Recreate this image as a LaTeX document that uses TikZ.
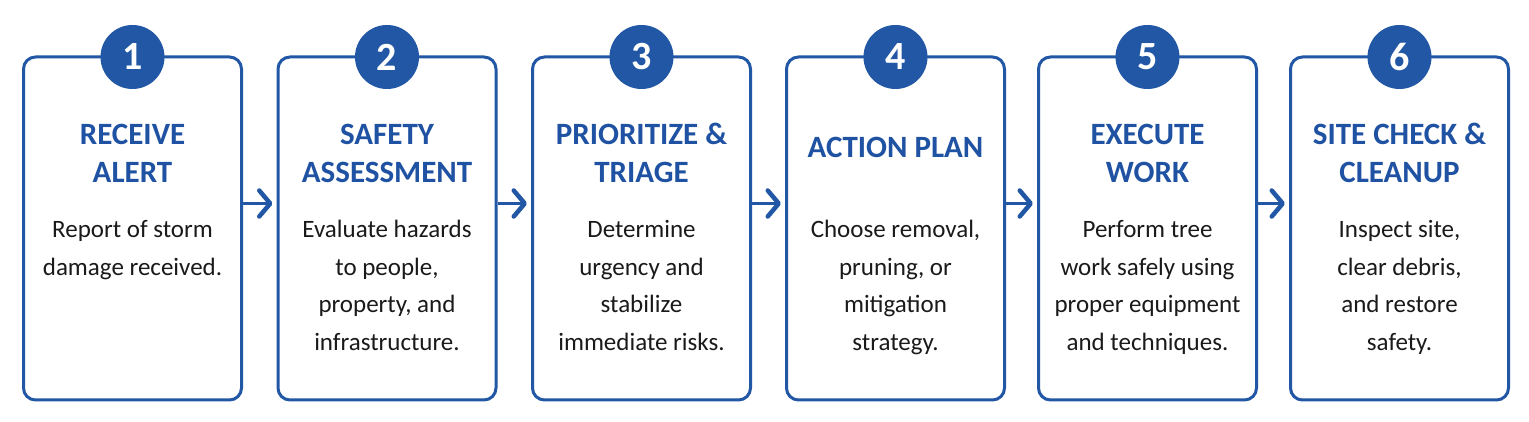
\documentclass[tikz,border=0pt]{standalone}
\usepackage{fontspec}
\setmainfont{Carlito}
\usetikzlibrary{arrows.meta}
\definecolor{bblue}{HTML}{2157A4}
\definecolor{tblue}{HTML}{1F52A2}
\definecolor{btext}{HTML}{1A1A1A}
\begin{document}
\begin{tikzpicture}[x=1pt,y=1pt,
  stepbox/.style={draw=bblue,line width=3pt,rounded corners=12pt,minimum width=218pt,minimum height=343pt,inner sep=0pt,fill=white},
  numcirc/.style={circle,fill=bblue,minimum size=64pt,inner sep=0pt,text=white,font=\fontsize{40}{40}\selectfont\bfseries},
  ttl/.style={anchor=base,align=center,inner sep=0pt,text=tblue,font=\fontsize{31}{38}\selectfont\bfseries},
  bdy/.style={anchor=north,align=center,inner sep=0pt,text=btext,font=\fontsize{25}{37.7}\selectfont,execute at begin node=\strut},
  flow/.style={draw=bblue,line width=3pt,-{Straight Barb[length=11pt,width=26pt,line width=4.5pt,round]}}
]
\useasboundingbox (0,0) rectangle (1529,422);
\fill[white] (0,0) rectangle (1529,422);
\foreach \i/\x in {1/132.5,2/387,3/641.5,4/895.5,5/1147.5,6/1399.5}{
  \node[stepbox] (b\i) at (\x,193.5) {};
  \node[numcirc] (c\i) at (\x,365) {\i};
}
% titles (base = last line)
\node[ttl] (t1) at (132.5,239) {RECEIVE\\ALERT};
\node[ttl] (t2) at (387,239) {SAFETY\\ASSESSMENT};
\node[ttl] (t3) at (641.5,239) {PRIORITIZE \&\\TRIAGE};
\node[ttl] (t4) at (895.5,264) {ACTION PLAN};
\node[ttl] (t5) at (1147.5,239) {EXECUTE\\WORK};
\node[ttl] (t6) at (1399.5,239) {SITE CHECK \&\\CLEANUP};
% bodies
\node[bdy] (d1) at (132.5,202) {Report of storm\\damage received.};
\node[bdy] (d2) at (387,202) {Evaluate hazards\\to people,\\property, and\\infrastructure.};
\node[bdy] (d3) at (641.5,202) {Determine\\urgency and\\stabilize\\immediate risks.};
\node[bdy] (d4) at (895.5,202) {Choose removal,\\pruning, or\\mitigation\\strategy.};
\node[bdy] (d5) at (1147.5,202) {Perform tree\\work safely using\\proper equipment\\and techniques.};
\node[bdy] (d6) at (1399.5,202) {Inspect site,\\clear debris,\\and restore\\safety.};
% arrows
\foreach \a/\b in {1/2,2/3,3/4,4/5,5/6}{
  \draw[flow] ([yshift=25pt]b\a.east) -- ([xshift=-4pt,yshift=25pt]b\b.west);
}
\end{tikzpicture}
\end{document}
